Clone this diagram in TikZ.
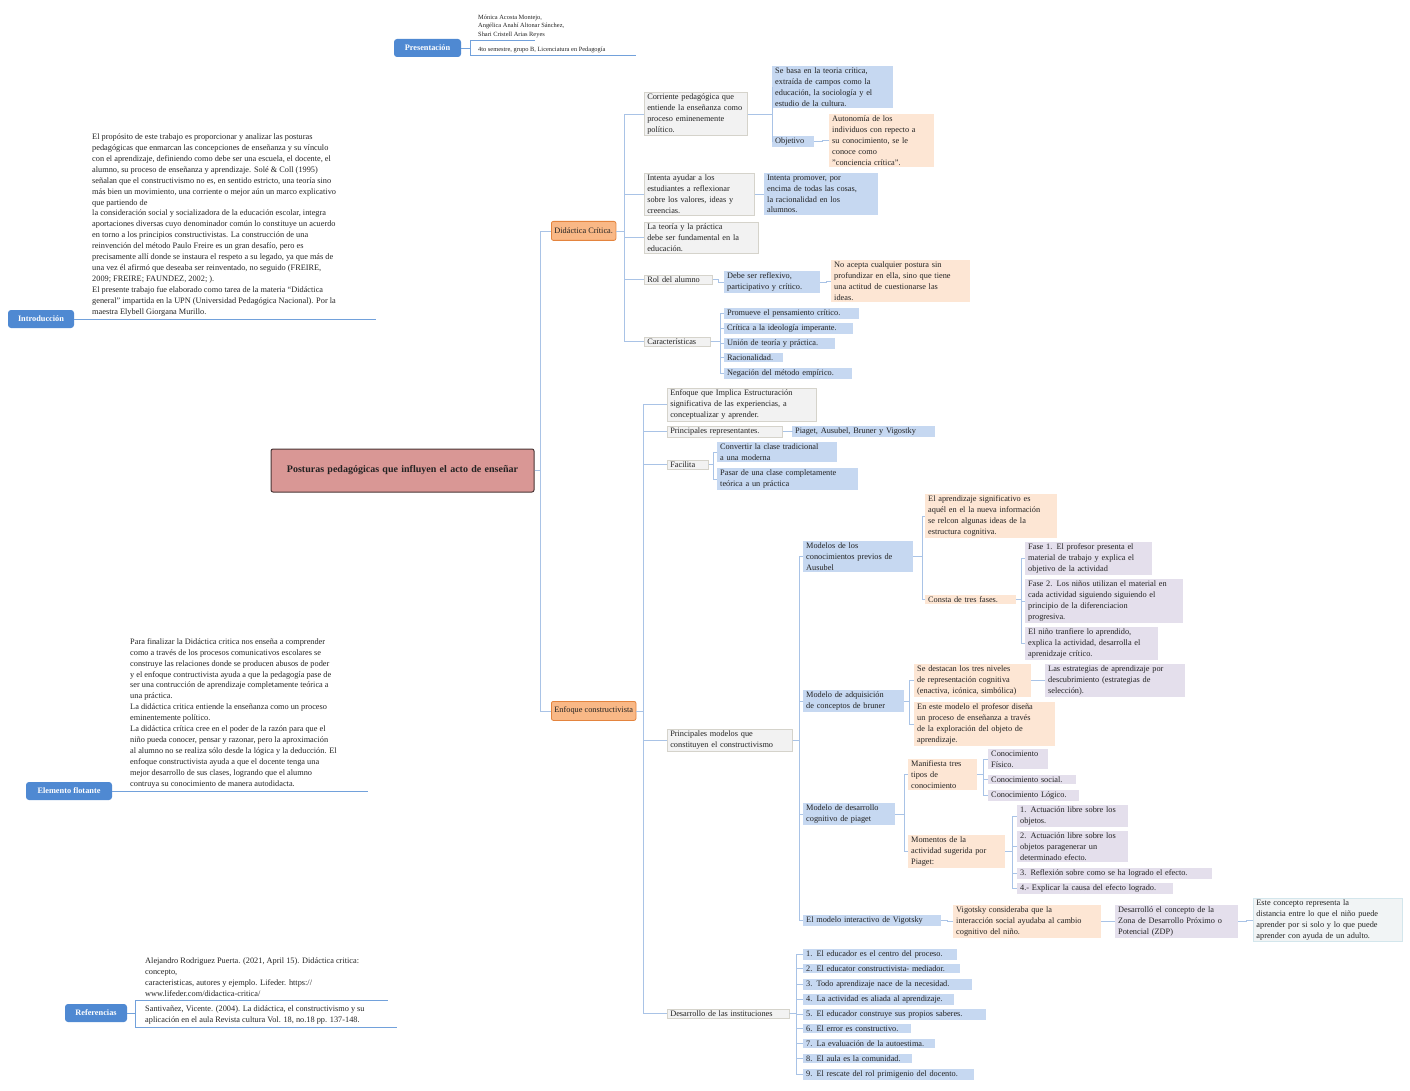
\documentclass[tikz,border=0pt]{standalone}
\usepackage{fontspec}
\setmainfont{Liberation Serif}
\begin{document}
\definecolor{lc}{HTML}{A9C3E6}
\definecolor{gf}{HTML}{F2F2F2}\definecolor{gd}{HTML}{D5D3CB}
\definecolor{bf}{HTML}{C6D8F1}
\definecolor{pf}{HTML}{FDE6D4}
\definecolor{vf}{HTML}{E4DFEC}
\definecolor{of}{HTML}{F9B886}\definecolor{od}{HTML}{E4843E}
\definecolor{rf}{HTML}{D99795}\definecolor{rd}{HTML}{4A3535}
\definecolor{tf}{HTML}{4F89D2}
\definecolor{cf}{HTML}{F1F4F5}\definecolor{cd}{HTML}{D3E6EC}
\definecolor{tx}{HTML}{222222}
\newcommand\bx[6]{\node[#2,anchor=north west,text width=#5pt-6pt] (#1) at (#3,#4) {#6};}
\newcommand\con[3]{\draw[con] (#2.east) -- ++(#1,0) |- (#3.west);}
\begin{tikzpicture}[x=1pt,y=-1pt,
  every node/.style={font=\fontsize{8.3}{10.9}\selectfont,text=tx,align=left,inner xsep=3pt,inner ysep=1.6pt},
  g/.style={fill=gf,draw=gd,line width=0.6pt},
  b/.style={fill=bf},
  p/.style={fill=pf},
  v/.style={fill=vf},
  c/.style={fill=cf,draw=cd,line width=0.8pt},
  tag/.style={fill=tf,rounded corners=3pt,text=white,font=\fontsize{8.3}{10}\selectfont\bfseries,align=center,inner ysep=3pt},
  con/.style={draw=lc,line width=0.7pt},
  ul/.style={draw=tf!80,line width=0.8pt}]
\useasboundingbox (0,0) rectangle (1410,1091);
% root
\node[fill=rf,draw=rd,line width=1pt,rounded corners=2pt,minimum width=263pt,minimum height=43pt,text width=240pt,align=center,font=\fontsize{10}{12}\selectfont\bfseries] (root) at (402.5,470.5) {Posturas pedagógicas que influyen el acto de enseñar};
\node[fill=of,draw=od,line width=0.8pt,rounded corners=2pt,anchor=north west,minimum height=19pt] (dc) at (551,221) {Didáctica Crítica.};
\node[fill=of,draw=od,line width=0.8pt,rounded corners=2pt,anchor=north west,minimum height=19pt] (ec) at (551,701) {Enfoque constructivista};
\con{6}{root}{dc}\con{6}{root}{ec}
% Didactica
\bx{d1}{g}{644}{92}{103}{Corriente pedagógica que\\entiende la enseñanza como\\proceso eminenemente\\político.}
\bx{d1a}{b}{772}{66}{121}{Se basa en la teoria crítica,\\extraída de campos como la\\educación, la sociología y el\\estudio de la cultura.}
\bx{d1b}{b}{772}{136}{42}{Objetivo}
\bx{d1c}{p}{829}{114}{105}{Autonomía de los\\individuos con repecto a\\su conocimiento, se le\\conoce como\\"conciencia crítica".}
\bx{d2}{g}{644}{173}{110}{Intenta ayudar a los\\estudiantes a reflexionar\\sobre los valores, ideas y\\creencias.}
\bx{d2a}{b}{764}{173}{114}{Intenta promover, por\\encima de todas las cosas,\\la racionalidad en los\\alumnos.}
\bx{d3}{g}{644}{222}{114}{La teoría y la práctica\\debe ser fundamental en la\\educación.}
\bx{d4}{g}{644}{275}{68}{Rol del alumno}
\bx{d4a}{b}{724}{271}{96}{Debe ser reflexivo,\\participativo y crítico.}
\bx{d4b}{p}{831}{260}{139}{No acepta cualquier postura sin\\profundizar en ella, sino que tiene\\una actitud de cuestionarse las\\ideas.}
\bx{d5}{g}{644}{337}{66}{Características}
\bx{d5a}{b}{724}{308}{135}{Promueve el pensamiento crítico.}
\bx{d5b}{b}{724}{323}{129}{Crítica a la ideología imperante.}
\bx{d5c}{b}{724}{338}{111}{Unión de teoría y práctica.}
\bx{d5d}{b}{724}{353}{59}{Racionalidad.}
\bx{d5e}{b}{724}{368}{128}{Negación del método empírico.}
\foreach \n in {d1,d2,d3,d4,d5}{\con{8}{dc}{\n}}
\con{25}{d1}{d1a}\con{25}{d1}{d1b}\con{8}{d1b}{d1c}
\con{5}{d2}{d2a}\con{6}{d4}{d4a}\con{6}{d4a}{d4b}
\foreach \n in {d5a,d5b,d5c,d5d,d5e}{\con{10}{d5}{\n}}
% Enfoque
\bx{e1}{g}{667}{388}{149}{Enfoque que Implica Estructuración\\significativa de las experiencias, a\\conceptualizar y aprender.}
\bx{e2}{g}{667}{426}{115}{Principales representantes.}
\bx{e2a}{b}{792}{426}{143}{Piaget, Ausubel, Bruner y Vigostky}
\bx{e3}{g}{667}{460}{41}{Facilita}
\bx{e3a}{b}{717}{442}{120}{Convertir la clase tradicional\\a una moderna}
\bx{e3b}{b}{717}{468}{141}{Pasar de una clase completamente\\teórica a un práctica}
\bx{e4}{g}{667}{729}{125}{Principales modelos que\\constituyen el constructivismo}
\bx{e5}{g}{667}{1009}{122}{Desarrollo de las instituciones}
\foreach \n in {e1,e2,e3,e4,e5}{\con{7}{ec}{\n}}
\con{10}{e2}{e2a}\con{5}{e3}{e3a}\con{5}{e3}{e3b}
% Ausubel
\bx{a}{b}{803}{541}{110}{Modelos de los\\conocimientos previos de\\Ausubel}
\bx{a1}{p}{925}{494}{132}{El aprendizaje significativo es\\aquél en el la nueva información\\se relcon algunas ideas de la\\estructura cognitiva.}
\bx{a2}{p}{925}{595}{91}{Consta de tres fases.}
\bx{a2a}{v}{1025}{542}{127}{Fase 1. El profesor presenta el\\material de trabajo y explica el\\objetivo de la actividad}
\bx{a2b}{v}{1025}{579}{158}{Fase 2. Los niños utilizan el material en\\cada actividad siguiendo siguiendo el\\principio de la diferenciacion\\progresiva.}
\bx{a2c}{v}{1025}{627}{133}{El niño tranfiere lo aprendido,\\explica la actividad, desarrolla el\\aprenidzaje crítico.}
% Bruner
\bx{br}{b}{803}{690}{101}{Modelo de adquisición\\de conceptos de bruner}
\bx{br1}{p}{914}{664}{117}{Se destacan los tres niveles\\de representación cognitiva\\(enactiva, icónica, simbólica)}
\bx{br1a}{v}{1045}{664}{140}{Las estrategias de aprendizaje por\\descubrimiento (estrategias de\\selección).}
\bx{br2}{p}{914}{702}{141}{En este modelo el profesor diseña\\un proceso de enseñanza a través\\de la exploración del objeto de\\aprendizaje.}
% Piaget
\bx{pi}{b}{803}{803}{92}{Modelo de desarrollo\\cognitivo de piaget}
\bx{pi1}{p}{908}{759}{69}{Manifiesta tres\\tipos de\\conocimiento}
\bx{pi1a}{v}{988}{749}{60}{Conocimiento\\Físico.}
\bx{pi1b}{v}{988}{775}{88}{Conocimiento social.}
\bx{pi1c}{v}{988}{790}{91}{Conocimiento Lógico.}
\bx{pi2}{p}{908}{835}{97}{Momentos de la\\actividad sugerida por\\Piaget:}
\bx{pi2a}{v}{1017}{805}{111}{1. Actuación libre sobre los\\objetos.}
\bx{pi2b}{v}{1017}{831}{111}{2. Actuación libre sobre los\\objetos paragenerar un\\determinado efecto.}
\bx{pi2c}{v}{1017}{868}{195}{3. Reflexión sobre como se ha logrado el efecto.}
\bx{pi2d}{v}{1017}{883}{156}{4.- Explicar la causa del efecto logrado.}
% Vigotsky
\bx{vg}{b}{803}{915}{138}{El modelo interactivo de Vigotsky}
\bx{vg1}{p}{953}{905}{148}{Vigotsky consideraba que la\\interacción social ayudaba al cambio\\cognitivo del niño.}
\bx{vg2}{v}{1115}{905}{123}{Desarrolló el concepto de la\\Zona de Desarrollo Próximo o\\Potencial (ZDP)}
\bx{vg3}{c}{1253}{898}{149}{Este concepto representa la\\distancia entre lo que el niño puede\\aprender por si solo y lo que puede\\aprender con ayuda de un adulto.}
\foreach \n in {a,br,pi,vg}{\con{7}{e4}{\n}}
\con{9}{a}{a1}\con{9}{a}{a2}
\foreach \n in {a2a,a2b,a2c}{\con{5}{a2}{\n}}
\con{5}{br}{br1}\con{5}{br}{br2}\con{7}{br1}{br1a}
\con{9}{pi}{pi1}\con{9}{pi}{pi2}
\foreach \n in {pi1a,pi1b,pi1c}{\con{6}{pi1}{\n}}
\foreach \n in {pi2a,pi2b,pi2c,pi2d}{\con{7}{pi2}{\n}}
\con{6}{vg}{vg1}\con{7}{vg1}{vg2}\con{8}{vg2}{vg3}
% Desarrollo
\bx{i1}{b}{803}{949}{154}{1. El educador es el centro del proceso.}
\bx{i2}{b}{803}{964}{157}{2. El educator constructivista- mediador.}
\bx{i3}{b}{803}{979}{169}{3. Todo aprendizaje nace de la necesidad.}
\bx{i4}{b}{803}{994}{151}{4. La actividad es aliada al aprendizaje.}
\bx{i5}{b}{803}{1009}{183}{5. El educador construye sus propios saberes.}
\bx{i6}{b}{803}{1024}{108}{6. El error es constructivo.}
\bx{i7}{b}{803}{1039}{132}{7. La evaluación de la autoestima.}
\bx{i8}{b}{803}{1054}{109}{8. El aula es la comunidad.}
\bx{i9}{b}{803}{1069}{171}{9. El rescate del rol primigenio del docento.}
\foreach \n in {i1,i2,i3,i4,i5,i6,i7,i8,i9}{\con{7}{e5}{\n}}
% Presentacion
\node[tag,minimum width=67pt,minimum height=18pt] (pr) at (427.5,48) {Presentación};
\node[anchor=south west,font=\fontsize{6.4}{8.6}\selectfont,inner sep=0pt] (pr1) at (478,38) {Mónica Acosta Montejo,\\Angélica Anahí Altonar Sánchez,\\Shari Cristell Arias Reyes};
\node[anchor=south west,font=\fontsize{6.4}{8.6}\selectfont,inner sep=0pt] (pr2) at (478,53) {4to semestre, grupo B, Licenciatura en Pedagogía};
\coordinate (pa) at (470,40);\coordinate (pb) at (470,55);
\draw[ul] (pr.east) -- (pa |- pr.east);
\draw[ul] (pa) -- (pb); \draw[ul] (pa) -- (535,40); \draw[ul] (pb) -- (636,55);
% Introduccion
\node[tag,minimum width=66pt,minimum height=18pt] (in) at (41,319) {Introducción};
\node[anchor=south west,inner sep=0pt] (int) at (92,316) {El propósito de este trabajo es proporcionar y analizar las posturas\\pedagógicas que enmarcan las concepciones de enseñanza y su vínculo\\con el aprendizaje, definiendo como debe ser una escuela, el docente, el\\alumno, su proceso de enseñanza y aprendizaje. Solé \& Coll (1995)\\señalan que el constructivismo no es, en sentido estricto, una teoría sino\\más bien un movimiento, una corriente o mejor aún un marco explicativo\\que partiendo de\\la consideración social y socializadora de la educación escolar, integra\\aportaciones diversas cuyo denominador común lo constituye un acuerdo\\en torno a los principios constructivistas. La construcción de una\\reinvención del método Paulo Freire es un gran desafío, pero es\\precisamente allí donde se instaura el respeto a su legado, ya que más de\\una vez él afirmó que deseaba ser reinventado, no seguido (FREIRE,\\2009; FREIRE; FAUNDEZ, 2002; ).\\El presente trabajo fue elaborado como tarea de la materia “Didáctica\\general” impartida en la UPN (Universidad Pedagógica Nacional). Por la\\maestra Elybell Giorgana Murillo.};
\coordinate (ie) at (376,319);
\draw[ul] (in.east) -- (ie);
% Elemento flotante
\node[tag,minimum width=86pt,minimum height=18pt] (ef) at (69,791) {Elemento flotante};
\node[anchor=south west,inner sep=0pt] (eft) at (130,788) {Para finalizar la Didáctica critica nos enseña a comprender\\como a través de los procesos comunicativos escolares se\\construye las relaciones donde se producen abusos de poder\\y el enfoque contructivista ayuda a que la pedagogía pase de\\ser una contrucción de aprendizaje completamente teórica a\\una práctica.\\La didáctica critica entiende la enseñanza como un proceso\\eminentemente político.\\La didáctica crítica cree en el poder de la razón para que el\\niño pueda conocer, pensar y razonar, pero la aproximación\\al alumno no se realiza sólo desde la lógica y la deducción. El\\enfoque constructivista ayuda a que el docente tenga una\\mejor desarrollo de sus clases, logrando que el alumno\\contruya su conocimiento de manera autodidacta.};
\coordinate (ee) at (368,791);
\draw[ul] (ef.east) -- (ee);
% Referencias
\node[tag,minimum width=62pt,minimum height=18pt] (rf) at (96,1013) {Referencias};
\node[anchor=south west,inner sep=0pt] (rf1) at (145,997) {Alejandro Rodriguez Puerta. (2021, April 15). Didáctica critica:\\concepto,\\caracteristicas, autores y ejemplo. Lifeder. https://\\www.lifeder.com/didactica-critica/};
\node[anchor=south west,inner sep=0pt] (rf2) at (145,1024) {Santivañez, Vicente. (2004). La didáctica, el constructivismo y su\\aplicación en el aula Revista cultura Vol. 18, no.18 pp. 137-148.};
\coordinate (ra) at (135,1000);\coordinate (rb) at (135,1027);
\draw[ul] (rf.east) -- (ra |- rf.east);
\draw[ul] (ra) -- (rb); \draw[ul] (ra) -- (388,1000); \draw[ul] (rb) -- (397,1027);
\end{tikzpicture}
\end{document}
